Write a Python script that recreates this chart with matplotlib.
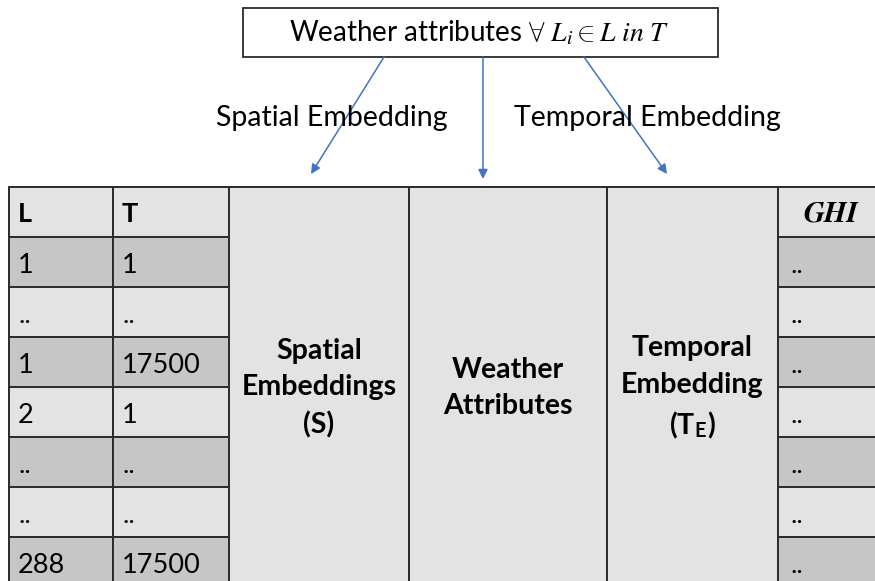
import matplotlib.pyplot as plt
from matplotlib.patches import Rectangle

plt.rcParams['mathtext.fontset'] = 'custom'
plt.rcParams['mathtext.rm'] = 'Lato'
plt.rcParams['mathtext.it'] = 'STIXGeneral:italic'
plt.rcParams['mathtext.bf'] = 'Lato:bold'

# table content
col_headers = ["L", "T"]
L_values = ["1", "..", "1", "2", "..", "..", "288"]
T_values = ["1", "..", "17500", "1", "..", "..", "17500"]
ghi_values = ["..", "..", "..", "..", "..", "..", ".."]
block_labels = ["Spatial\nEmbeddings\n(S)", "Weather\nAttributes", "Temporal\nEmbedding\n(T$_{\\mathbf{E}}$)"]
edge_labels = ["Spatial Embedding", "Temporal Embedding"]
title_text = r"Weather attributes $\forall\ L_i \in L\ in\ T$"

LIGHT = "#e3e3e3"
DARK = "#c6c6c6"
EDGE = "#2b2b2b"
BLUE = "#4472c4"
FONT = "Lato"

fig = plt.figure(figsize=(8.75, 5.81), dpi=100)
ax = fig.add_axes([0, 0, 1, 1])
ax.set_xlim(0, 875)
ax.set_ylim(581, 0)
ax.axis("off")

top = 187
row_h = 50
n_rows = len(L_values)
bottom = top + row_h * (n_rows + 1)


def cell(x0, x1, y0, y1, color):
    ax.add_patch(Rectangle((x0, y0), x1 - x0, y1 - y0, facecolor=color,
                           edgecolor=EDGE, lw=1.4))


# left L / T columns
cols = [(9, 113), (113, 229)]
for (x0, x1), head in zip(cols, col_headers):
    cell(x0, x1, top, top + row_h, LIGHT)
    ax.text(x0 + 9, top + 35, head, fontsize=19.5, fontweight="bold",
            family=FONT, va="baseline")
for i, (lv, tv) in enumerate(zip(L_values, T_values)):
    y0 = top + row_h * (i + 1)
    color = DARK if i % 2 == 0 else LIGHT
    for (x0, x1), val in zip(cols, [lv, tv]):
        cell(x0, x1, y0, y0 + row_h, color)
        ax.text(x0 + 9, y0 + 36, val, fontsize=19.5, family=FONT, va="baseline")

# middle embedding blocks
blocks = [(229, 409), (409, 607), (607, 778)]
for (x0, x1), lab in zip(blocks, block_labels):
    cell(x0, x1, top, bottom, LIGHT)
    ax.text((x0 + x1) / 2, 388, lab, fontsize=20.5, fontweight="bold",
            family=FONT, ha="center", va="center", linespacing=1.5)

# GHI column
gx0, gx1 = 778, 890
cell(gx0, gx1, top, top + row_h, LIGHT)
ax.text(gx0 + 53, top + 34, "GHI", fontsize=21, fontweight="bold",
        style="italic", family="STIXGeneral", ha="center", va="baseline")
for i, val in enumerate(ghi_values):
    y0 = top + row_h * (i + 1)
    color = DARK if i % 2 == 0 else LIGHT
    cell(gx0, gx1, y0, y0 + row_h, color)
    ax.text(gx0 + 12, y0 + 36, val, fontsize=19.5, family=FONT, va="baseline")

# title box
ax.add_patch(Rectangle((243, 8), 475, 49, facecolor="white", edgecolor=EDGE, lw=1.3))
ax.text(479, 33, title_text, fontsize=20, family=FONT, ha="center", va="center")

# arrows
arrows = [((384, 57), (311, 174)), ((483, 57), (483, 179)), ((584, 57), (667, 174))]
for (sx, sy), (ex, ey) in arrows:
    ax.annotate("", xy=(ex, ey), xytext=(sx, sy),
                arrowprops=dict(arrowstyle="-|>", color=BLUE, lw=1.1,
                                mutation_scale=14, shrinkA=0, shrinkB=0))

ax.text(332, 118, edge_labels[0], fontsize=20.5, family=FONT, ha="center", va="center")
ax.text(647, 118, edge_labels[1], fontsize=20.5, family=FONT, ha="center", va="center")

fig.savefig("out.png", dpi=100)
